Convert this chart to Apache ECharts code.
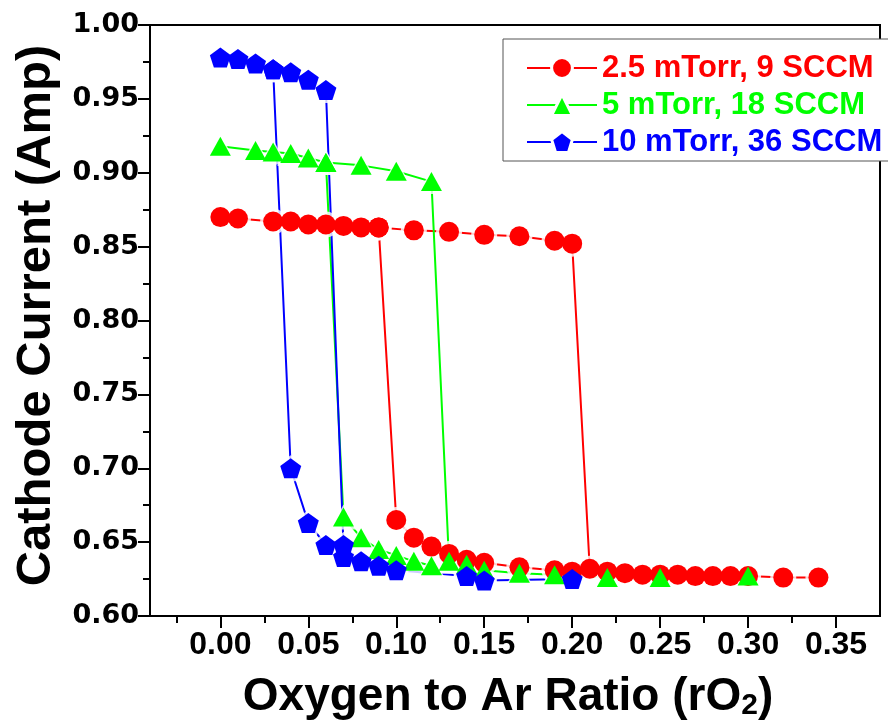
<!DOCTYPE html>
<html>
<head>
<meta charset="utf-8">
<script src="https://cdn.jsdelivr.net/npm/echarts@6/dist/echarts.min.js"></script>
<style>
  html, body { margin: 0; padding: 0; background: #fff; }
  #main { width: 888px; height: 721px; }
</style>
</head>
<body>
<div id="main"></div>
<script>
// legend names and colours
var names = ["2.5 mTorr, 9 SCCM", "5 mTorr, 18 SCCM", "10 mTorr, 36 SCCM"];
var colors = ["#ff0000", "#00ff00", "#0000ff"];

// x axis ticks
var xTicks = [0, 0.05, 0.1, 0.15, 0.2, 0.25, 0.3, 0.35];
var xMinor = [-0.025, 0.025, 0.075, 0.125, 0.175, 0.225, 0.275, 0.325];

// [rO2, current] : increasing sweep, then decreasing sweep
var redUp = [[0, 0.870], [0.01, 0.869], [0.03, 0.867], [0.04, 0.867], [0.05, 0.865], [0.06, 0.865],
  [0.07, 0.864], [0.08, 0.863], [0.09, 0.863], [0.11, 0.861], [0.13, 0.860], [0.15, 0.858],
  [0.17, 0.857], [0.19, 0.854], [0.20, 0.852], [0.21, 0.632], [0.22, 0.630], [0.23, 0.629],
  [0.24, 0.628], [0.25, 0.628], [0.26, 0.628], [0.27, 0.627], [0.28, 0.627], [0.29, 0.627],
  [0.30, 0.627], [0.32, 0.626], [0.34, 0.626]];
var redDown = [[0.20, 0.630], [0.19, 0.631], [0.17, 0.633], [0.15, 0.636], [0.14, 0.638],
  [0.13, 0.642], [0.12, 0.647], [0.11, 0.653], [0.10, 0.665], [0.09, 0.863]];

var greenUp = [[0, 0.918], [0.02, 0.915], [0.03, 0.914], [0.04, 0.913], [0.05, 0.910], [0.06, 0.907],
  [0.08, 0.905], [0.10, 0.901], [0.12, 0.894], [0.13, 0.637], [0.14, 0.635], [0.15, 0.631],
  [0.17, 0.629], [0.19, 0.628], [0.22, 0.626], [0.25, 0.626], [0.30, 0.627]];
var greenDown = [[0.12, 0.634], [0.11, 0.637], [0.10, 0.641], [0.09, 0.645], [0.08, 0.653],
  [0.07, 0.667], [0.06, 0.907]];

var blueUp = [[0, 0.978], [0.01, 0.977], [0.02, 0.974], [0.03, 0.970], [0.04, 0.968], [0.05, 0.963],
  [0.06, 0.956], [0.07, 0.648], [0.08, 0.637], [0.09, 0.634], [0.10, 0.631], [0.14, 0.627],
  [0.15, 0.624], [0.20, 0.625]];
var blueDown = [[0.07, 0.640], [0.06, 0.648], [0.05, 0.663], [0.04, 0.700], [0.03, 0.970]];

var pentagon = "path://M0,-1L0.951,-0.309L0.588,0.809L-0.588,0.809L-0.951,-0.309Z";

var sets = [
  { name: names[0], color: colors[0], symbol: "circle", size: 20, halo: 26, up: redUp, down: redDown },
  { name: names[1], color: colors[1], symbol: "triangle", size: [21, 19], halo: [27, 25], up: greenUp, down: greenDown },
  { name: names[2], color: colors[2], symbol: pentagon, size: [21, 20], halo: [27, 26], up: blueUp, down: blueDown }
];

var series = [];
// lines first, then white gaps round the symbols, then the symbols
sets.forEach(function (s, i) {
  [s.up, s.down].forEach(function (d, j) {
    series.push({
      type: "line", name: "line" + i + j, data: d, symbol: "none", z: 2, silent: true,
      lineStyle: { color: s.color, width: 2 }, itemStyle: { color: s.color }
    });
  });
});
sets.forEach(function (s, i) {
  series.push({
    type: "scatter", name: "gap" + i, data: s.up.concat(s.down), symbol: s.symbol,
    symbolSize: s.halo, z: 3, silent: true, itemStyle: { color: "#fff" }
  });
});
sets.forEach(function (s) {
  series.push({
    type: "line", name: s.name, data: s.up.concat(s.down), symbol: s.symbol, symbolSize: s.size,
    showAllSymbol: true, z: 4, lineStyle: { color: s.color, width: 2, opacity: 0 },
    itemStyle: { color: s.color }
  });
});

var chart = echarts.init(document.getElementById("main"));
var tickStyle = { color: "#000", width: 2 };
chart.setOption({
  animation: false,
  grid: {
    left: 150, right: 8, top: 25, bottom: 105, outerBoundsMode: "none",
    show: true, borderColor: "#000", borderWidth: 2
  },
  legend: {
    orient: "vertical", left: 503, top: 39,
    padding: [13, 40, 3, 23],
    backgroundColor: "#fff", borderColor: "#555", borderWidth: 1,
    itemWidth: 70, itemHeight: 26, itemGap: 5,
    textStyle: { fontFamily: "Liberation Sans", fontWeight: "bold", fontSize: 31, lineHeight: 32 },
    data: sets.map(function (s) {
      return {
        name: s.name,
        textStyle: { color: s.color },
        lineStyle: { color: s.color, width: 2, opacity: 1 },
        itemStyle: { borderColor: "#fff", borderWidth: 3 }
      };
    })
  },
  xAxis: [{
    type: "value", min: -0.04, max: 0.375,
    axisLine: { show: true, onZero: false, lineStyle: tickStyle },
    axisTick: { show: true, length: 12, customValues: xTicks, lineStyle: tickStyle },
    axisLabel: {
      customValues: xTicks, margin: 13, color: "#000",
      fontFamily: "Liberation Sans", fontWeight: "bold", fontSize: 32,
      formatter: function (v) { return v.toFixed(2); }
    },
    splitLine: { show: false },
    name: "{a|Oxygen to Ar Ratio (rO}{s|2}{a|)}",
    nameLocation: "middle", nameGap: 57,
    nameTextStyle: {
      padding: [0, 14, 0, 0],
      rich: {
        a: { fontFamily: "Liberation Sans", fontWeight: "bold", fontSize: 46, color: "#000", lineHeight: 48 },
        s: { fontFamily: "Liberation Sans", fontWeight: "bold", fontSize: 30, color: "#000", lineHeight: 48, verticalAlign: "bottom", padding: [14, 0, 0, 0] }
      }
    }
  }, {
    type: "value", min: -0.04, max: 0.375, position: "bottom",
    axisLine: { show: false, onZero: false },
    axisTick: { show: true, length: 7, customValues: xMinor, lineStyle: tickStyle },
    axisLabel: { show: false },
    splitLine: { show: false }
  }],
  yAxis: {
    type: "value", min: 0.6, max: 1.0, interval: 0.05,
    axisLine: { show: true, onZero: false, lineStyle: tickStyle },
    axisTick: { show: true, length: 12, lineStyle: tickStyle },
    minorTick: { show: true, splitNumber: 2, length: 7, lineStyle: tickStyle },
    splitLine: { show: false },
    axisLabel: {
      margin: 11, color: "#000", fontFamily: "DejaVu Sans", fontWeight: "bold", fontSize: 27,
      formatter: function (v) { return v.toFixed(2); }
    },
    name: "Cathode Current (Amp)",
    nameLocation: "middle", nameGap: 84, nameRotate: 90,
    nameTextStyle: {
      padding: [0, 0, 0, 10],
      fontFamily: "Liberation Sans", fontWeight: "bold", fontSize: 49, color: "#000"
    }
  },
  series: series
});
</script>
</body>
</html>
